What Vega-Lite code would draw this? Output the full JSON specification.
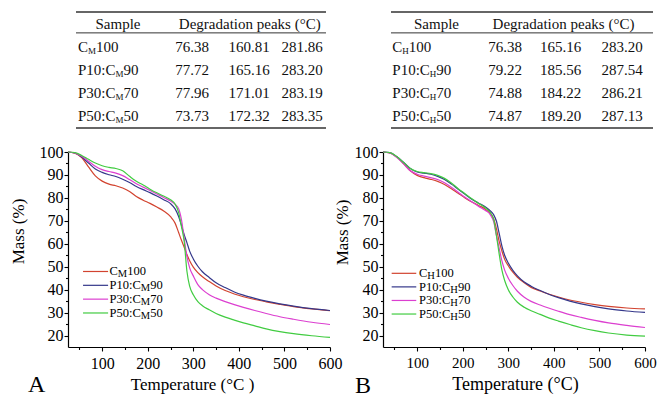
{
  "$schema": "https://vega.github.io/schema/vega-lite/v6.json",
  "background": "white",
  "padding": {"left": 9, "top": 11, "right": 0, "bottom": 0},
  "config": {
    "view": {"stroke": null},
    "font": "Liberation Serif",
    "text": {"font": "Liberation Serif", "color": "#000"},
    "title": {"font": "Liberation Serif"},
    "axis": {
      "labelFont": "Liberation Serif", "labelFontSize": 16, "labelColor": "#000",
      "titleFont": "Liberation Serif", "titleFontSize": 17, "titleFontWeight": "normal", "titleColor": "#000",
      "tickColor": "#000", "domainColor": "#000", "tickSize": 4, "tickWidth": 1.1, "domainWidth": 1.2,
      "grid": false, "labelOverlap": false, "labelFlush": false
    }
  },
  "datasets": {
    "tabA": [
      {"row": 1, "key": "S100", "pre": "C", "sub": "M", "post": "100", "v1": 76.38, "v2": 160.81, "v3": 281.86},
      {"row": 2, "key": "P10", "pre": "P10:C", "sub": "M", "post": "90", "v1": 77.72, "v2": 165.16, "v3": 283.20},
      {"row": 3, "key": "P30", "pre": "P30:C", "sub": "M", "post": "70", "v1": 77.96, "v2": 171.01, "v3": 283.19},
      {"row": 4, "key": "P50", "pre": "P50:C", "sub": "M", "post": "50", "v1": 73.73, "v2": 172.32, "v3": 283.35}
    ],
    "tabB": [
      {"row": 1, "key": "S100", "pre": "C", "sub": "H", "post": "100", "v1": 76.38, "v2": 165.16, "v3": 283.20},
      {"row": 2, "key": "P10", "pre": "P10:C", "sub": "H", "post": "90", "v1": 79.22, "v2": 185.56, "v3": 287.54},
      {"row": 3, "key": "P30", "pre": "P30:C", "sub": "H", "post": "70", "v1": 74.88, "v2": 184.22, "v3": 286.21},
      {"row": 4, "key": "P50", "pre": "P50:C", "sub": "H", "post": "50", "v1": 74.87, "v2": 189.20, "v3": 287.13}
    ],
    "curvesA": [
      {"T": 25, "S100": 100, "P10": 100, "P30": 100, "P50": 100},
      {"T": 40, "S100": 99.5, "P10": 99.6, "P30": 99.6, "P50": 99.7},
      {"T": 55, "S100": 97.6, "P10": 97.8, "P30": 98.2, "P50": 98.5},
      {"T": 70, "S100": 93.5, "P10": 95.2, "P30": 96.0, "P50": 96.8},
      {"T": 85, "S100": 89.6, "P10": 92.6, "P30": 93.8, "P50": 95.2},
      {"T": 100, "S100": 87.3, "P10": 91.1, "P30": 92.3, "P50": 94.0},
      {"T": 115, "S100": 86.0, "P10": 90.1, "P30": 91.5, "P50": 93.3},
      {"T": 130, "S100": 85.3, "P10": 89.3, "P30": 90.8, "P50": 92.8},
      {"T": 145, "S100": 84.3, "P10": 88.1, "P30": 89.7, "P50": 91.8},
      {"T": 160, "S100": 82.8, "P10": 86.7, "P30": 88.0, "P50": 89.4},
      {"T": 175, "S100": 80.6, "P10": 85.0, "P30": 86.2, "P50": 87.2},
      {"T": 190, "S100": 79.0, "P10": 83.6, "P30": 84.7, "P50": 85.6},
      {"T": 205, "S100": 77.6, "P10": 82.3, "P30": 83.2, "P50": 83.8},
      {"T": 220, "S100": 76.0, "P10": 80.8, "P30": 81.7, "P50": 82.2},
      {"T": 235, "S100": 74.3, "P10": 79.2, "P30": 80.2, "P50": 80.8},
      {"T": 250, "S100": 71.8, "P10": 77.5, "P30": 78.6, "P50": 79.2},
      {"T": 260, "S100": 69.0, "P10": 75.2, "P30": 77.2, "P50": 77.3},
      {"T": 268, "S100": 64.8, "P10": 71.8, "P30": 75.2, "P50": 73.5},
      {"T": 274, "S100": 61.5, "P10": 68.0, "P30": 70.5, "P50": 67.5},
      {"T": 280, "S100": 58.5, "P10": 64.0, "P30": 62.3, "P50": 61.0},
      {"T": 286, "S100": 55.3, "P10": 60.5, "P30": 54.5, "P50": 48.0},
      {"T": 292, "S100": 52.6, "P10": 56.8, "P30": 49.5, "P50": 41.5},
      {"T": 300, "S100": 49.8, "P10": 53.4, "P30": 46.0, "P50": 37.8},
      {"T": 310, "S100": 47.4, "P10": 50.2, "P30": 42.2, "P50": 34.8},
      {"T": 320, "S100": 45.6, "P10": 47.8, "P30": 40.0, "P50": 33.0},
      {"T": 335, "S100": 43.5, "P10": 45.3, "P30": 37.8, "P50": 31.2},
      {"T": 350, "S100": 41.6, "P10": 43.0, "P30": 36.3, "P50": 29.6},
      {"T": 370, "S100": 39.6, "P10": 40.9, "P30": 34.8, "P50": 28.0},
      {"T": 390, "S100": 38.1, "P10": 39.0, "P30": 33.5, "P50": 26.7},
      {"T": 410, "S100": 36.9, "P10": 37.6, "P30": 32.3, "P50": 25.5},
      {"T": 435, "S100": 35.7, "P10": 36.2, "P30": 30.9, "P50": 24.2},
      {"T": 460, "S100": 34.7, "P10": 35.0, "P30": 29.6, "P50": 22.9},
      {"T": 490, "S100": 33.6, "P10": 33.8, "P30": 28.2, "P50": 21.7},
      {"T": 520, "S100": 32.6, "P10": 32.8, "P30": 27.1, "P50": 20.8},
      {"T": 560, "S100": 31.6, "P10": 31.7, "P30": 25.8, "P50": 19.9},
      {"T": 600, "S100": 30.8, "P10": 30.9, "P30": 24.8, "P50": 19.2}
    ],
    "curvesB": [
      {"T": 25, "S100": 100, "P10": 100, "P30": 100, "P50": 100},
      {"T": 40, "S100": 99.6, "P10": 99.7, "P30": 99.6, "P50": 99.7},
      {"T": 55, "S100": 97.8, "P10": 98.0, "P30": 97.7, "P50": 98.0},
      {"T": 70, "S100": 95.0, "P10": 95.5, "P30": 94.8, "P50": 95.4},
      {"T": 85, "S100": 91.8, "P10": 92.8, "P30": 91.8, "P50": 92.8},
      {"T": 100, "S100": 89.8, "P10": 91.3, "P30": 90.3, "P50": 91.5},
      {"T": 115, "S100": 88.8, "P10": 90.8, "P30": 89.5, "P50": 91.0},
      {"T": 130, "S100": 88.1, "P10": 90.3, "P30": 88.8, "P50": 90.6},
      {"T": 145, "S100": 87.2, "P10": 89.4, "P30": 88.0, "P50": 89.8},
      {"T": 160, "S100": 85.8, "P10": 88.0, "P30": 86.6, "P50": 88.5},
      {"T": 175, "S100": 84.0, "P10": 86.0, "P30": 84.6, "P50": 86.5},
      {"T": 190, "S100": 82.0, "P10": 83.8, "P30": 82.5, "P50": 84.0},
      {"T": 205, "S100": 80.0, "P10": 81.6, "P30": 80.3, "P50": 81.8},
      {"T": 220, "S100": 78.2, "P10": 79.4, "P30": 78.3, "P50": 79.6},
      {"T": 235, "S100": 76.7, "P10": 77.7, "P30": 76.3, "P50": 77.6},
      {"T": 250, "S100": 75.0, "P10": 76.0, "P30": 74.5, "P50": 75.6},
      {"T": 260, "S100": 73.2, "P10": 74.4, "P30": 72.8, "P50": 73.8},
      {"T": 268, "S100": 70.8, "P10": 72.6, "P30": 69.5, "P50": 70.5},
      {"T": 274, "S100": 66.5, "P10": 69.8, "P30": 63.5, "P50": 63.5},
      {"T": 280, "S100": 61.0, "P10": 64.5, "P30": 58.0, "P50": 55.5},
      {"T": 286, "S100": 56.8, "P10": 59.0, "P30": 52.5, "P50": 48.5},
      {"T": 292, "S100": 53.2, "P10": 55.0, "P30": 48.5, "P50": 44.0},
      {"T": 300, "S100": 50.4, "P10": 51.6, "P30": 45.0, "P50": 40.0},
      {"T": 310, "S100": 47.6, "P10": 48.4, "P30": 41.8, "P50": 36.8},
      {"T": 320, "S100": 45.4, "P10": 46.0, "P30": 39.3, "P50": 34.5},
      {"T": 335, "S100": 43.0, "P10": 43.3, "P30": 36.7, "P50": 32.3},
      {"T": 350, "S100": 41.0, "P10": 41.5, "P30": 34.9, "P50": 30.8},
      {"T": 370, "S100": 39.4, "P10": 39.6, "P30": 33.3, "P50": 29.2},
      {"T": 390, "S100": 38.0, "P10": 37.9, "P30": 31.9, "P50": 27.6},
      {"T": 410, "S100": 36.8, "P10": 36.5, "P30": 30.6, "P50": 26.3},
      {"T": 435, "S100": 35.5, "P10": 35.0, "P30": 29.1, "P50": 24.8},
      {"T": 460, "S100": 34.5, "P10": 33.8, "P30": 27.9, "P50": 23.4},
      {"T": 490, "S100": 33.5, "P10": 32.6, "P30": 26.6, "P50": 22.1},
      {"T": 520, "S100": 32.7, "P10": 31.6, "P30": 25.5, "P50": 21.1},
      {"T": 560, "S100": 32.0, "P10": 30.7, "P30": 24.4, "P50": 20.2},
      {"T": 600, "S100": 31.6, "P10": 30.1, "P30": 23.5, "P50": 19.7}
    ]
  },
  "columns": 2,
  "spacing": {"row": 24, "column": 53},
  "bounds": "flush",
  "concat": [
    {
      "width": 262, "height": 116,
      "layer": [
        {"data": {"values": [{}]}, "mark": {"type": "rule", "strokeWidth": 1.5, "color": "#333"},
         "encoding": {"x": {"datum": -1.109, "scale": {"domain": [-1.2545, 3.509], "nice": false, "zero": false}, "axis": null}, "x2": {"datum": 3.436},
                      "y": {"datum": -0.5, "scale": {"domain": [-0.5, 4.5], "reverse": true, "nice": false, "zero": false}, "axis": null}}},
        {"data": {"values": [{}]}, "mark": {"type": "rule", "strokeWidth": 1, "color": "#333"},
         "encoding": {"x": {"datum": -1.109, "scale": {"domain": [-1.2545, 3.509], "nice": false, "zero": false}, "axis": null}, "x2": {"datum": 3.436},
                      "y": {"datum": 0.4, "scale": {"domain": [-0.5, 4.5], "reverse": true, "nice": false, "zero": false}, "axis": null}}},
        {"data": {"values": [{}]}, "mark": {"type": "rule", "strokeWidth": 1.5, "color": "#333"},
         "encoding": {"x": {"datum": -1.109, "scale": {"domain": [-1.2545, 3.509], "nice": false, "zero": false}, "axis": null}, "x2": {"datum": 3.436},
                      "y": {"datum": 4.5, "scale": {"domain": [-0.5, 4.5], "reverse": true, "nice": false, "zero": false}, "axis": null}}},
        {"data": {"values": [{}]}, "mark": {"type": "text", "text": "Sample", "fontSize": 15, "align": "center", "baseline": "middle", "color": "#111"},
         "encoding": {"x": {"datum": -0.345, "scale": {"domain": [-1.2545, 3.509], "nice": false, "zero": false}, "axis": null},
                      "y": {"datum": 0, "scale": {"domain": [-0.5, 4.5], "reverse": true, "nice": false, "zero": false}, "axis": null}}},
        {"data": {"values": [{}]}, "mark": {"type": "text", "text": "Degradation peaks (°C)", "fontSize": 15, "align": "center", "baseline": "middle", "color": "#111"},
         "encoding": {"x": {"datum": 2.05, "scale": {"domain": [-1.2545, 3.509], "nice": false, "zero": false}, "axis": null},
                      "y": {"datum": 0, "scale": {"domain": [-0.5, 4.5], "reverse": true, "nice": false, "zero": false}, "axis": null}}},
        {"data": {"name": "tabA"}, "mark": {"type": "text", "fontSize": 15, "align": "left", "baseline": "middle", "color": "#111"},
         "encoding": {"x": {"datum": -1.073, "scale": {"domain": [-1.2545, 3.509], "nice": false, "zero": false}, "axis": null},
                      "y": {"field": "row", "type": "quantitative", "scale": {"domain": [-0.5, 4.5], "reverse": true, "nice": false, "zero": false}, "axis": null},
                      "text": {"field": "pre"}}},
        {"data": {"name": "tabA"}, "mark": {"type": "text", "fontSize": 9, "align": "left", "baseline": "middle", "dy": 4, "dx": {"expr": "datum.pre == 'C' ? 10 : 37.5"}, "color": "#111"},
         "encoding": {"x": {"datum": -1.073, "scale": {"domain": [-1.2545, 3.509], "nice": false, "zero": false}, "axis": null},
                      "y": {"field": "row", "type": "quantitative", "scale": {"domain": [-0.5, 4.5], "reverse": true, "nice": false, "zero": false}, "axis": null},
                      "text": {"field": "sub"}}},
        {"data": {"name": "tabA"}, "mark": {"type": "text", "fontSize": 15, "align": "left", "baseline": "middle", "dx": {"expr": "datum.pre == 'C' ? 18 : 45.5"}, "color": "#111"},
         "encoding": {"x": {"datum": -1.073, "scale": {"domain": [-1.2545, 3.509], "nice": false, "zero": false}, "axis": null},
                      "y": {"field": "row", "type": "quantitative", "scale": {"domain": [-0.5, 4.5], "reverse": true, "nice": false, "zero": false}, "axis": null},
                      "text": {"field": "post"}}},
        {"data": {"name": "tabA"}, "mark": {"type": "text", "fontSize": 15, "align": "center", "baseline": "middle", "color": "#111"},
         "encoding": {"x": {"datum": 1, "scale": {"domain": [-1.2545, 3.509], "nice": false, "zero": false}, "axis": null},
                      "y": {"field": "row", "type": "quantitative", "scale": {"domain": [-0.5, 4.5], "reverse": true, "nice": false, "zero": false}, "axis": null},
                      "text": {"field": "v1", "type": "quantitative", "format": ".2f"}}},
        {"data": {"name": "tabA"}, "mark": {"type": "text", "fontSize": 15, "align": "center", "baseline": "middle", "color": "#111"},
         "encoding": {"x": {"datum": 2.04, "scale": {"domain": [-1.2545, 3.509], "nice": false, "zero": false}, "axis": null},
                      "y": {"field": "row", "type": "quantitative", "scale": {"domain": [-0.5, 4.5], "reverse": true, "nice": false, "zero": false}, "axis": null},
                      "text": {"field": "v2", "type": "quantitative", "format": ".2f"}}},
        {"data": {"name": "tabA"}, "mark": {"type": "text", "fontSize": 15, "align": "center", "baseline": "middle", "color": "#111"},
         "encoding": {"x": {"datum": 3, "scale": {"domain": [-1.2545, 3.509], "nice": false, "zero": false}, "axis": null},
                      "y": {"field": "row", "type": "quantitative", "scale": {"domain": [-0.5, 4.5], "reverse": true, "nice": false, "zero": false}, "axis": null},
                      "text": {"field": "v3", "type": "quantitative", "format": ".2f"}}}
      ]
    },
    {
      "width": 262, "height": 116,
      "layer": [
        {"data": {"values": [{}]}, "mark": {"type": "rule", "strokeWidth": 1.5, "color": "#333"},
         "encoding": {"x": {"datum": -0.949, "scale": {"domain": [-1.0855, 3.393], "nice": false, "zero": false}, "axis": null}, "x2": {"datum": 3.53},
                      "y": {"datum": -0.5, "scale": {"domain": [-0.5, 4.5], "reverse": true, "nice": false, "zero": false}, "axis": null}}},
        {"data": {"values": [{}]}, "mark": {"type": "rule", "strokeWidth": 1, "color": "#333"},
         "encoding": {"x": {"datum": -0.949, "scale": {"domain": [-1.0855, 3.393], "nice": false, "zero": false}, "axis": null}, "x2": {"datum": 3.53},
                      "y": {"datum": 0.4, "scale": {"domain": [-0.5, 4.5], "reverse": true, "nice": false, "zero": false}, "axis": null}}},
        {"data": {"values": [{}]}, "mark": {"type": "rule", "strokeWidth": 1.5, "color": "#333"},
         "encoding": {"x": {"datum": -0.949, "scale": {"domain": [-1.0855, 3.393], "nice": false, "zero": false}, "axis": null}, "x2": {"datum": 3.53},
                      "y": {"datum": 4.5, "scale": {"domain": [-0.5, 4.5], "reverse": true, "nice": false, "zero": false}, "axis": null}}},
        {"data": {"values": [{}]}, "mark": {"type": "text", "text": "Sample", "fontSize": 15, "align": "center", "baseline": "middle", "color": "#111"},
         "encoding": {"x": {"datum": -0.171, "scale": {"domain": [-1.0855, 3.393], "nice": false, "zero": false}, "axis": null},
                      "y": {"datum": 0, "scale": {"domain": [-0.5, 4.5], "reverse": true, "nice": false, "zero": false}, "axis": null}}},
        {"data": {"values": [{}]}, "mark": {"type": "text", "text": "Degradation peaks (°C)", "fontSize": 15, "align": "center", "baseline": "middle", "color": "#111"},
         "encoding": {"x": {"datum": 2.0, "scale": {"domain": [-1.0855, 3.393], "nice": false, "zero": false}, "axis": null},
                      "y": {"datum": 0, "scale": {"domain": [-0.5, 4.5], "reverse": true, "nice": false, "zero": false}, "axis": null}}},
        {"data": {"name": "tabB"}, "mark": {"type": "text", "fontSize": 15, "align": "left", "baseline": "middle", "color": "#111"},
         "encoding": {"x": {"datum": -0.926, "scale": {"domain": [-1.0855, 3.393], "nice": false, "zero": false}, "axis": null},
                      "y": {"field": "row", "type": "quantitative", "scale": {"domain": [-0.5, 4.5], "reverse": true, "nice": false, "zero": false}, "axis": null},
                      "text": {"field": "pre"}}},
        {"data": {"name": "tabB"}, "mark": {"type": "text", "fontSize": 9, "align": "left", "baseline": "middle", "dy": 4, "dx": {"expr": "datum.pre == 'C' ? 10 : 37.5"}, "color": "#111"},
         "encoding": {"x": {"datum": -0.926, "scale": {"domain": [-1.0855, 3.393], "nice": false, "zero": false}, "axis": null},
                      "y": {"field": "row", "type": "quantitative", "scale": {"domain": [-0.5, 4.5], "reverse": true, "nice": false, "zero": false}, "axis": null},
                      "text": {"field": "sub"}}},
        {"data": {"name": "tabB"}, "mark": {"type": "text", "fontSize": 15, "align": "left", "baseline": "middle", "dx": {"expr": "datum.pre == 'C' ? 16.5 : 44"}, "color": "#111"},
         "encoding": {"x": {"datum": -0.926, "scale": {"domain": [-1.0855, 3.393], "nice": false, "zero": false}, "axis": null},
                      "y": {"field": "row", "type": "quantitative", "scale": {"domain": [-0.5, 4.5], "reverse": true, "nice": false, "zero": false}, "axis": null},
                      "text": {"field": "post"}}},
        {"data": {"name": "tabB"}, "mark": {"type": "text", "fontSize": 15, "align": "center", "baseline": "middle", "color": "#111"},
         "encoding": {"x": {"datum": 1, "scale": {"domain": [-1.0855, 3.393], "nice": false, "zero": false}, "axis": null},
                      "y": {"field": "row", "type": "quantitative", "scale": {"domain": [-0.5, 4.5], "reverse": true, "nice": false, "zero": false}, "axis": null},
                      "text": {"field": "v1", "type": "quantitative", "format": ".2f"}}},
        {"data": {"name": "tabB"}, "mark": {"type": "text", "fontSize": 15, "align": "center", "baseline": "middle", "color": "#111"},
         "encoding": {"x": {"datum": 1.95, "scale": {"domain": [-1.0855, 3.393], "nice": false, "zero": false}, "axis": null},
                      "y": {"field": "row", "type": "quantitative", "scale": {"domain": [-0.5, 4.5], "reverse": true, "nice": false, "zero": false}, "axis": null},
                      "text": {"field": "v2", "type": "quantitative", "format": ".2f"}}},
        {"data": {"name": "tabB"}, "mark": {"type": "text", "fontSize": 15, "align": "center", "baseline": "middle", "color": "#111"},
         "encoding": {"x": {"datum": 3, "scale": {"domain": [-1.0855, 3.393], "nice": false, "zero": false}, "axis": null},
                      "y": {"field": "row", "type": "quantitative", "scale": {"domain": [-0.5, 4.5], "reverse": true, "nice": false, "zero": false}, "axis": null},
                      "text": {"field": "v3", "type": "quantitative", "format": ".2f"}}}
      ]
    },
    {
      "width": 262, "height": 195,
      "title": {"text": "A", "orient": "bottom", "anchor": "start", "frame": "group", "dx": -40, "offset": 0, "baseline": "alphabetic", "fontSize": 24, "fontWeight": "normal", "color": "#000"},
      "resolve": {"scale": {"y": "independent"}, "axis": {"x": "independent", "y": "independent"}},
      "layer": [
        {"data": {"name": "curvesA"},
         "transform": [{"fold": ["S100", "P10", "P30", "P50"], "as": ["key", "M"]}],
         "mark": {"type": "line", "strokeWidth": 1.2, "interpolate": "monotone"},
         "encoding": {
           "x": {"field": "T", "type": "quantitative", "scale": {"domain": [25, 600], "nice": false, "zero": false},
                 "axis": {"values": [100, 200, 300, 400, 500, 600], "labelPadding": 4, "title": "Temperature (°C )", "titleX": 124, "titleY": 42, "titleBaseline": "alphabetic"}},
           "y": {"field": "M", "type": "quantitative", "scale": {"domain": [15, 100], "nice": false, "zero": false},
                 "axis": {"orient": "left", "values": [20, 30, 40, 50, 60, 70, 80, 90, 100], "labelPadding": 1, "title": "Mass (%)", "titleX": -50, "titleY": 79, "titleBaseline": "middle"}},
           "color": {"field": "key", "type": "nominal", "scale": {"domain": ["S100", "P10", "P30", "P50"], "range": ["#d2432f", "#34378a", "#dc3fd0", "#41cc41"]}, "legend": null}
         }},
        {"data": {"name": "curvesA"}, "mark": {"type": "point", "opacity": 0},
         "encoding": {
           "x": {"field": "T", "type": "quantitative", "scale": {"domain": [25, 600], "nice": false, "zero": false},
                 "axis": {"orient": "bottom", "values": [50, 150, 250, 350, 450, 550], "labels": false, "domain": false, "tickSize": 2.5, "title": null}},
           "y": {"field": "S100", "type": "quantitative", "scale": {"domain": [15, 100], "nice": false, "zero": false},
                 "axis": {"orient": "left", "values": [25, 35, 45, 55, 65, 75, 85, 95], "labels": false, "domain": false, "tickSize": 2.5, "title": null}}
         }},
        {"data": {"name": "tabA"}, "mark": {"type": "rule", "strokeWidth": 1.2},
         "encoding": {
           "x": {"datum": 58, "axis": null}, "x2": {"datum": 113},
           "y": {"field": "row", "type": "quantitative", "scale": {"domain": [-7.64, 6.46], "reverse": true, "nice": false, "zero": false}, "axis": null},
           "color": {"field": "key", "type": "nominal", "scale": {"domain": ["S100", "P10", "P30", "P50"], "range": ["#d2432f", "#34378a", "#dc3fd0", "#41cc41"]}, "legend": null}
         }},
        {"data": {"name": "tabA"}, "mark": {"type": "text", "fontSize": 12.5, "align": "left", "baseline": "middle", "color": "#000"},
         "encoding": {
           "x": {"datum": 116, "axis": null},
           "y": {"field": "row", "type": "quantitative", "scale": {"domain": [-7.64, 6.46], "reverse": true, "nice": false, "zero": false}, "axis": null},
           "text": {"field": "pre"}
         }},
        {"data": {"name": "tabA"}, "mark": {"type": "text", "fontSize": 10.5, "align": "left", "baseline": "middle", "dy": 3, "dx": {"expr": "datum.pre == 'C' ? 8.3 : 31.3"}, "color": "#000"},
         "encoding": {
           "x": {"datum": 116, "axis": null},
           "y": {"field": "row", "type": "quantitative", "scale": {"domain": [-7.64, 6.46], "reverse": true, "nice": false, "zero": false}, "axis": null},
           "text": {"field": "sub"}
         }},
        {"data": {"name": "tabA"}, "mark": {"type": "text", "fontSize": 12.5, "align": "left", "baseline": "middle", "dx": {"expr": "datum.pre == 'C' ? 17.7 : 40.7"}, "color": "#000"},
         "encoding": {
           "x": {"datum": 116, "axis": null},
           "y": {"field": "row", "type": "quantitative", "scale": {"domain": [-7.64, 6.46], "reverse": true, "nice": false, "zero": false}, "axis": null},
           "text": {"field": "post"}
         }}
      ]
    },
    {
      "width": 262, "height": 195,
      "title": {"text": "B", "orient": "bottom", "anchor": "start", "frame": "group", "dx": -28, "offset": 0, "baseline": "alphabetic", "fontSize": 24, "fontWeight": "normal", "color": "#000"},
      "resolve": {"scale": {"y": "independent"}, "axis": {"x": "independent", "y": "independent"}},
      "layer": [
        {"data": {"name": "curvesB"},
         "transform": [{"fold": ["S100", "P10", "P30", "P50"], "as": ["key", "M"]}],
         "mark": {"type": "line", "strokeWidth": 1.2, "interpolate": "monotone"},
         "encoding": {
           "x": {"field": "T", "type": "quantitative", "scale": {"domain": [25, 600], "nice": false, "zero": false},
                 "axis": {"values": [100, 200, 300, 400, 500, 600], "labelFontSize": 15, "labelPadding": 4, "title": "Temperature (°C)", "titleFontSize": 18, "titleX": 132, "titleY": 42, "titleBaseline": "alphabetic"}},
           "y": {"field": "M", "type": "quantitative", "scale": {"domain": [15, 100], "nice": false, "zero": false},
                 "axis": {"orient": "left", "values": [20, 30, 40, 50, 60, 70, 80, 90, 100], "labelPadding": 1, "title": "Mass (%)", "titleX": -41, "titleY": 80, "titleBaseline": "middle"}},
           "color": {"field": "key", "type": "nominal", "scale": {"domain": ["S100", "P10", "P30", "P50"], "range": ["#c93b2c", "#323470", "#de52d4", "#4ec84e"]}, "legend": null}
         }},
        {"data": {"name": "curvesB"}, "mark": {"type": "point", "opacity": 0},
         "encoding": {
           "x": {"field": "T", "type": "quantitative", "scale": {"domain": [25, 600], "nice": false, "zero": false},
                 "axis": {"orient": "bottom", "values": [50, 150, 250, 350, 450, 550], "labels": false, "domain": false, "tickSize": 2.5, "title": null}},
           "y": {"field": "S100", "type": "quantitative", "scale": {"domain": [15, 100], "nice": false, "zero": false},
                 "axis": {"orient": "left", "values": [25, 35, 45, 55, 65, 75, 85, 95], "labels": false, "domain": false, "tickSize": 2.5, "title": null}}
         }},
        {"data": {"name": "tabB"}, "mark": {"type": "rule", "strokeWidth": 1.2},
         "encoding": {
           "x": {"datum": 44, "axis": null}, "x2": {"datum": 98},
           "y": {"field": "row", "type": "quantitative", "scale": {"domain": [-7.94, 6.43], "reverse": true, "nice": false, "zero": false}, "axis": null},
           "color": {"field": "key", "type": "nominal", "scale": {"domain": ["S100", "P10", "P30", "P50"], "range": ["#c93b2c", "#323470", "#de52d4", "#4ec84e"]}, "legend": null}
         }},
        {"data": {"name": "tabB"}, "mark": {"type": "text", "fontSize": 12.5, "align": "left", "baseline": "middle", "color": "#000"},
         "encoding": {
           "x": {"datum": 104, "axis": null},
           "y": {"field": "row", "type": "quantitative", "scale": {"domain": [-7.94, 6.43], "reverse": true, "nice": false, "zero": false}, "axis": null},
           "text": {"field": "pre"}
         }},
        {"data": {"name": "tabB"}, "mark": {"type": "text", "fontSize": 10.5, "align": "left", "baseline": "middle", "dy": 3, "dx": {"expr": "datum.pre == 'C' ? 8.3 : 31.3"}, "color": "#000"},
         "encoding": {
           "x": {"datum": 104, "axis": null},
           "y": {"field": "row", "type": "quantitative", "scale": {"domain": [-7.94, 6.43], "reverse": true, "nice": false, "zero": false}, "axis": null},
           "text": {"field": "sub"}
         }},
        {"data": {"name": "tabB"}, "mark": {"type": "text", "fontSize": 12.5, "align": "left", "baseline": "middle", "dx": {"expr": "datum.pre == 'C' ? 15.9 : 38.9"}, "color": "#000"},
         "encoding": {
           "x": {"datum": 104, "axis": null},
           "y": {"field": "row", "type": "quantitative", "scale": {"domain": [-7.94, 6.43], "reverse": true, "nice": false, "zero": false}, "axis": null},
           "text": {"field": "post"}
         }}
      ]
    }
  ]
}
